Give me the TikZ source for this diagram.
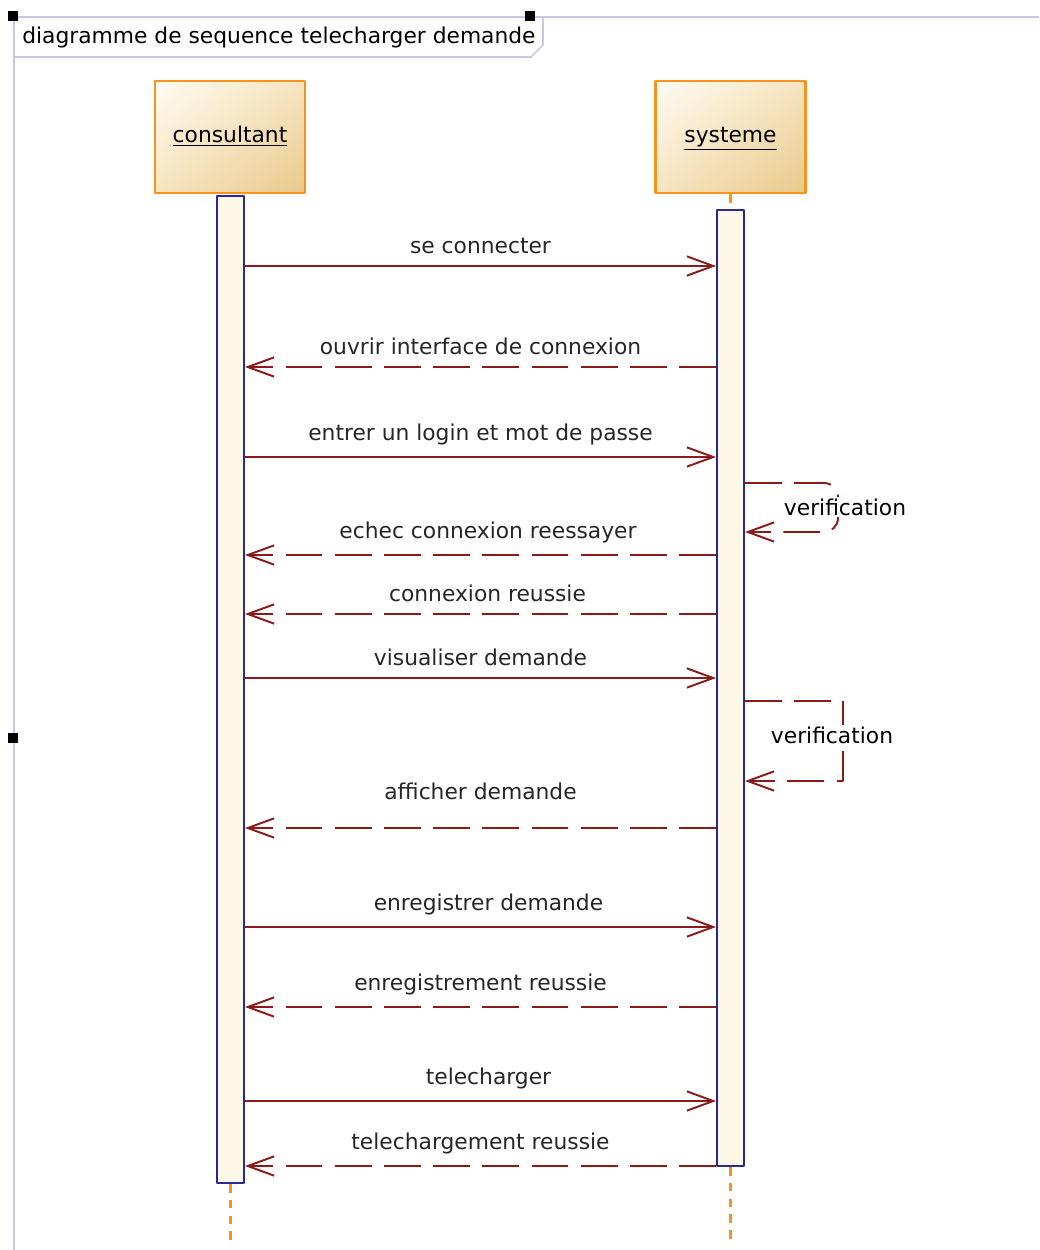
\documentclass[tikz,border=0pt]{standalone}
\usepackage{fontspec}
\setmainfont{DejaVu Sans}
\usetikzlibrary{arrows.meta,shadings}
\definecolor{msgred}{RGB}{139,26,26}
\definecolor{actblue}{RGB}{40,40,150}
\definecolor{actfill}{RGB}{253,247,232}
\definecolor{lifeorange}{RGB}{247,148,30}
\definecolor{framecol}{RGB}{200,200,230}
\definecolor{lifeA}{RGB}{255,252,243}
\definecolor{lifeB}{RGB}{246,228,192}
\definecolor{lifeC}{RGB}{233,201,138}
\tikzset{
  lifebox/.style={draw=lifeorange, line width=1.2pt, minimum width=3cm, minimum height=2.24cm,
    text height=1.6ex, text depth=0.5ex,
    upper left=lifeA, lower right=lifeC, upper right=lifeB, lower left=lifeB},
  actbox/.style={draw=actblue, fill=actfill, line width=1.1pt, minimum width=0.54cm, inner sep=0pt},
  lifeline/.style={lifeorange, line width=1.2pt, dash pattern=on 5pt off 4pt},
  call/.style={msgred, line width=1.1pt, -{Straight Barb[length=15pt,width=11pt]}},
  reply/.style={call, dash pattern=on 21pt off 7pt},
  msglabel/.style={above=3pt, midway, text=black!85}
}
\begin{document}
\begin{tikzpicture}[x=0.02cm, y=-0.02cm, font=\fontsize{12.4}{14}\selectfont, line join=round]
  \useasboundingbox (0,0) rectangle (1039,1250);
  % frame
  \draw[framecol, line width=1.2pt] (1039,17) -- (14,17) -- (14,1250);
  \draw[framecol, line width=1pt] (14,57) -- (531,57) -- (543,45) -- (543,17);
  \node[anchor=west, inner sep=0pt] (title) at (22,37) {diagramme de sequence telecharger demande};
  \fill (8,11) rectangle (18,21);
  \fill (525,11) rectangle (535,21);
  \fill (8,733) rectangle (18,743);
  % lifelines
  \node[lifebox] (consultant) at (230,137) {\underline{consultant}};
  \node[lifebox] (systeme) at (730.5,137) {\underline{systeme}};
  \node[actbox, minimum height=19.74cm] (actC) at (230.5,689.5) {};
  \node[actbox, minimum height=19.12cm] (actS) at (730.5,688) {};
  \coordinate (endC) at (230.5,1245);
  \coordinate (endS) at (730.5,1245);
  \draw[lifeline] (systeme.south) -- (actS.north);
  \draw[lifeline] (actC.south) -- (endC);
  \draw[lifeline] (actS.south) -- (endS);
  % messages
  \draw[call] (actC.east |- 0,266) -- (actS.west |- 0,266) node[msglabel]{se connecter};
  \draw[reply] (actS.west |- 0,367) -- (actC.east |- 0,367) node[msglabel]{ouvrir interface de connexion};
  \draw[call] (actC.east |- 0,457) -- (actS.west |- 0,457) node[msglabel]{entrer un login et mot de passe};
  \draw[reply, rounded corners=8pt] (actS.east |- 0,483) -- (838,483) -- (838,532) -- (actS.east |- 0,532);
  \node[fill=white, inner sep=1pt] (verif1) at (845,507) {verification};
  \draw[reply] (actS.west |- 0,555) -- (actC.east |- 0,555) node[msglabel, xshift=0.15cm]{echec connexion reessayer};
  \draw[reply] (actS.west |- 0,614) -- (actC.east |- 0,614) node[msglabel, xshift=0.14cm]{connexion reussie};
  \draw[call] (actC.east |- 0,678) -- (actS.west |- 0,678) node[msglabel]{visualiser demande};
  \draw[reply] (actS.east |- 0,701) -- (843,701) -- (843,781) -- (actS.east |- 0,781);
  \node[fill=white, inner sep=1pt] (verif2) at (832,735) {verification};
  \draw[reply] (actS.west |- 0,828) -- (actC.east |- 0,828) node[msglabel, above=9pt]{afficher demande};
  \draw[call] (actC.east |- 0,927) -- (actS.west |- 0,927) node[msglabel, xshift=0.16cm]{enregistrer demande};
  \draw[reply] (actS.west |- 0,1007) -- (actC.east |- 0,1007) node[msglabel]{enregistrement reussie};
  \draw[call] (actC.east |- 0,1101) -- (actS.west |- 0,1101) node[msglabel, xshift=0.16cm]{telecharger};
  \draw[reply] (actS.west |- 0,1166) -- (actC.east |- 0,1166) node[msglabel]{telechargement reussie};
\end{tikzpicture}
\end{document}
